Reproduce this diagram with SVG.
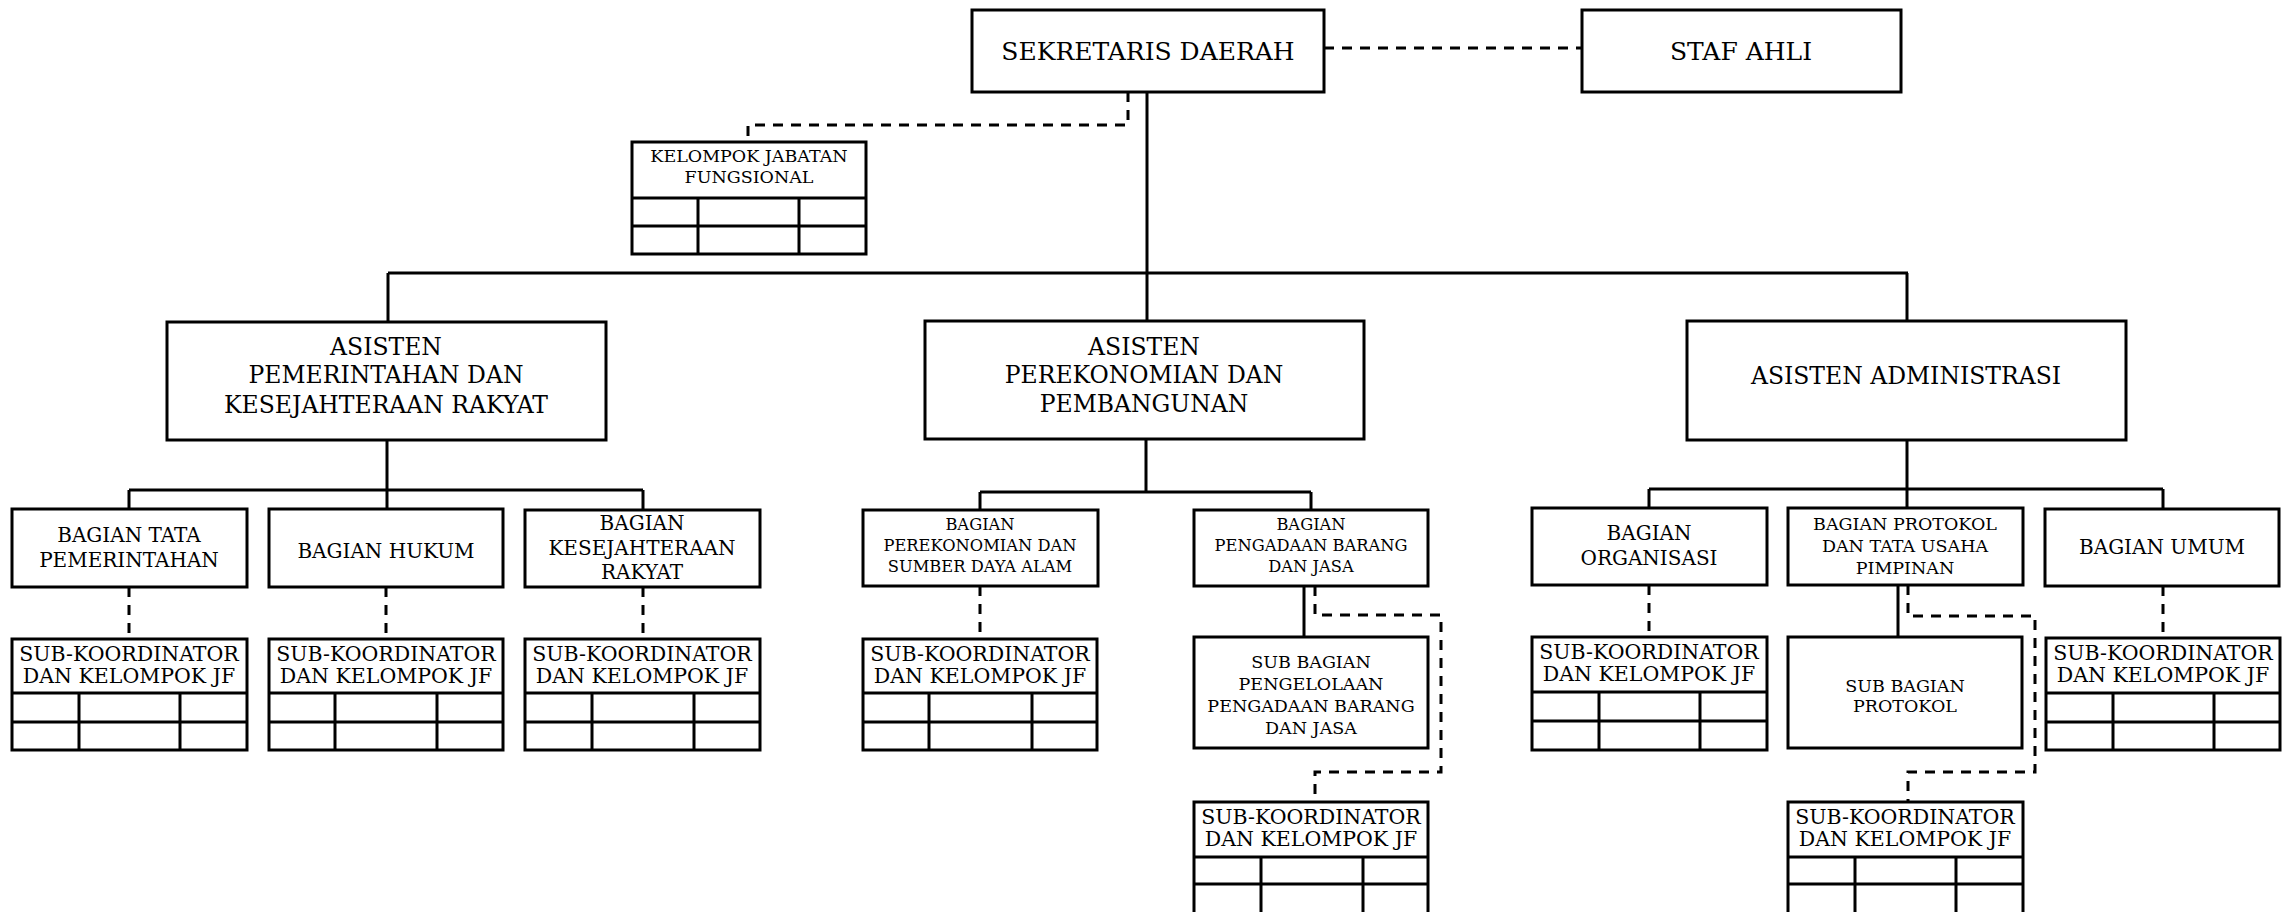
<svg xmlns="http://www.w3.org/2000/svg" width="2289" height="912" viewBox="0 0 2289 912">
<style>
.b{fill:#fff;stroke:#000;stroke-width:3}
.l{fill:none;stroke:#000;stroke-width:3}
.d{fill:none;stroke:#000;stroke-width:3;stroke-dasharray:10 8}
text{font-family:"DejaVu Serif","Liberation Serif",serif;fill:#000;text-anchor:middle}
.t25{font-size:25px}
.t23{font-size:23.5px}
.t20{font-size:20px}
.t19{font-size:20.5px}
.t17{font-size:17.5px}
.t16{font-size:16.3px}
</style>
<rect width="2289" height="912" fill="#fff"/>
<g id="connectors">
<path class="l" d="M1147 92V321M388 273H1908M388 273V322M1907 273V321"/>
<path class="l" d="M387 440V490M129 490H643M129 490V509M387 490V509M643 490V510"/>
<path class="l" d="M1146 439V492M980 492H1311M980 492V510M1311 492V510"/>
<path class="l" d="M1907 440V489M1649 489H2163M1649 489V508M1907 489V508M2163 489V509"/>
<path class="l" d="M1304 586V637M1898 585V637"/>
<path class="d" d="M1324 48H1582"/>
<path class="d" d="M1128 92V125H748V142"/>
<path class="d" d="M129 587V639M386 587V639M643 587V639M980 586V639M1649 585V637M2163 586V638"/>
<path class="d" d="M1315 586V615H1441V772H1315V802"/>
<path class="d" d="M1908 585V616H2035V772H1908V802"/>
</g>
<g id="sekda"><rect class="b" x="972" y="10" width="352" height="82"/><text class="t25" x="1148" y="60">SEKRETARIS DAERAH</text></g>
<g id="staf-ahli"><rect class="b" x="1582" y="10" width="319" height="82"/><text class="t25" x="1741" y="60">STAF AHLI</text></g>
<g id="kjf"><rect class="b" x="632" y="142" width="234" height="112"/><path class="l" d="M632 198H866M632 226H866M698 198V254M799 198V254"/><text class="t17" x="749" y="162">KELOMPOK JABATAN</text><text class="t17" x="749" y="183">FUNGSIONAL</text></g>
<g id="asisten-1"><rect class="b" x="167" y="322" width="439" height="118"/><text class="t23" x="386" y="355">ASISTEN</text><text class="t23" x="386" y="383">PEMERINTAHAN DAN</text><text class="t23" x="386" y="413">KESEJAHTERAAN RAKYAT</text></g>
<g id="asisten-2"><rect class="b" x="925" y="321" width="439" height="118"/><text class="t23" x="1144" y="355">ASISTEN</text><text class="t23" x="1144" y="383">PEREKONOMIAN DAN</text><text class="t23" x="1144" y="412">PEMBANGUNAN</text></g>
<g id="asisten-3"><rect class="b" x="1687" y="321" width="439" height="119"/><text class="t23" x="1906" y="384">ASISTEN ADMINISTRASI</text></g>
<g id="bag-tapem"><rect class="b" x="12" y="509" width="235" height="78"/><text class="t20" x="129" y="542">BAGIAN TATA</text><text class="t20" x="129" y="567">PEMERINTAHAN</text></g>
<g id="bag-hukum"><rect class="b" x="269" y="509" width="234" height="78"/><text class="t20" x="386" y="558">BAGIAN HUKUM</text></g>
<g id="bag-kesra"><rect class="b" x="525" y="510" width="235" height="77"/><text class="t20" x="642" y="530">BAGIAN</text><text class="t20" x="642" y="555">KESEJAHTERAAN</text><text class="t20" x="642" y="579">RAKYAT</text></g>
<g id="bag-ekon"><rect class="b" x="863" y="510" width="235" height="76"/><text class="t16" x="980" y="530">BAGIAN</text><text class="t16" x="980" y="551">PEREKONOMIAN DAN</text><text class="t16" x="980" y="572">SUMBER DAYA ALAM</text></g>
<g id="bag-pbj"><rect class="b" x="1194" y="510" width="234" height="76"/><text class="t16" x="1311" y="530">BAGIAN</text><text class="t16" x="1311" y="551">PENGADAAN BARANG</text><text class="t16" x="1311" y="572">DAN JASA</text></g>
<g id="bag-org"><rect class="b" x="1532" y="508" width="235" height="77"/><text class="t20" x="1649" y="540">BAGIAN</text><text class="t20" x="1649" y="565">ORGANISASI</text></g>
<g id="bag-prokopim"><rect class="b" x="1788" y="508" width="235" height="77"/><text class="t17" x="1905" y="530">BAGIAN PROTOKOL</text><text class="t17" x="1905" y="552">DAN TATA USAHA</text><text class="t17" x="1905" y="574">PIMPINAN</text></g>
<g id="bag-umum"><rect class="b" x="2045" y="509" width="234" height="77"/><text class="t20" x="2162" y="554">BAGIAN UMUM</text></g>
<g id="subbag-pbj"><rect class="b" x="1194" y="637" width="234" height="111"/><text class="t17" x="1311" y="668">SUB BAGIAN</text><text class="t17" x="1311" y="690">PENGELOLAAN</text><text class="t17" x="1311" y="712">PENGADAAN BARANG</text><text class="t17" x="1311" y="734">DAN JASA</text></g>
<g id="subbag-protokol"><rect class="b" x="1788" y="637" width="234" height="111"/><text class="t17" x="1905" y="692">SUB BAGIAN</text><text class="t17" x="1905" y="712">PROTOKOL</text></g>
<g id="subkoor-tapem"><rect class="b" x="12" y="639" width="235" height="111"/><path class="l" d="M12 693H247M12 722H247M79 693V750M180 693V750"/><text class="t19" x="129" y="661">SUB-KOORDINATOR</text><text class="t19" x="129" y="683">DAN KELOMPOK JF</text></g>
<g id="subkoor-hukum"><rect class="b" x="269" y="639" width="234" height="111"/><path class="l" d="M269 693H503M269 722H503M335 693V750M437 693V750"/><text class="t19" x="386" y="661">SUB-KOORDINATOR</text><text class="t19" x="386" y="683">DAN KELOMPOK JF</text></g>
<g id="subkoor-kesra"><rect class="b" x="525" y="639" width="235" height="111"/><path class="l" d="M525 693H760M525 722H760M592 693V750M694 693V750"/><text class="t19" x="642" y="661">SUB-KOORDINATOR</text><text class="t19" x="642" y="683">DAN KELOMPOK JF</text></g>
<g id="subkoor-ekon"><rect class="b" x="863" y="639" width="234" height="111"/><path class="l" d="M863 693H1097M863 722H1097M929 693V750M1032 693V750"/><text class="t19" x="980" y="661">SUB-KOORDINATOR</text><text class="t19" x="980" y="683">DAN KELOMPOK JF</text></g>
<g id="subkoor-pbj"><rect class="b" x="1194" y="802" width="234" height="115"/><path class="l" d="M1194 857H1428M1194 884H1428M1261 857V917M1363 857V917"/><text class="t19" x="1311" y="824">SUB-KOORDINATOR</text><text class="t19" x="1311" y="846">DAN KELOMPOK JF</text></g>
<g id="subkoor-org"><rect class="b" x="1532" y="637" width="235" height="113"/><path class="l" d="M1532 692H1767M1532 721H1767M1599 692V750M1700 692V750"/><text class="t19" x="1649" y="659">SUB-KOORDINATOR</text><text class="t19" x="1649" y="681">DAN KELOMPOK JF</text></g>
<g id="subkoor-prokopim"><rect class="b" x="1788" y="802" width="235" height="115"/><path class="l" d="M1788 857H2023M1788 884H2023M1855 857V917M1956 857V917"/><text class="t19" x="1905" y="824">SUB-KOORDINATOR</text><text class="t19" x="1905" y="846">DAN KELOMPOK JF</text></g>
<g id="subkoor-umum"><rect class="b" x="2046" y="638" width="234" height="112"/><path class="l" d="M2046 693H2280M2046 722H2280M2113 693V750M2214 693V750"/><text class="t19" x="2163" y="660">SUB-KOORDINATOR</text><text class="t19" x="2163" y="682">DAN KELOMPOK JF</text></g>
</svg>
